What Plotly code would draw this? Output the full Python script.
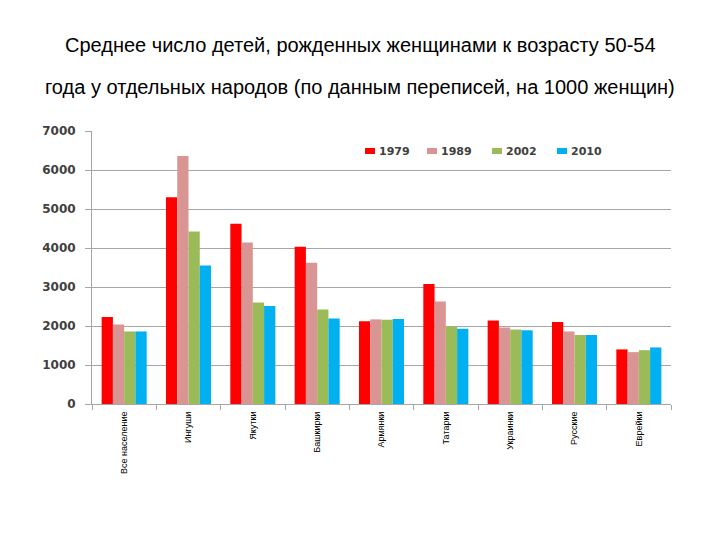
import plotly.graph_objects as go

categories = ["Все население", "Ингуши", "Якутки", "Башкирки", "Армянки",
              "Татарки", "Украинки", "Русские", "Еврейки"]
years = ["1979", "1989", "2002", "2010"]
v1979 = [2230, 5300, 4620, 4030, 2120, 3080, 2140, 2100, 1400]
v1989 = [2040, 6360, 4140, 3620, 2170, 2630, 1960, 1860, 1330]
v2002 = [1860, 4420, 2600, 2420, 2160, 1990, 1910, 1770, 1380]
v2010 = [1860, 3550, 2510, 2190, 2180, 1930, 1890, 1770, 1450]
yticks = [0, 1000, 2000, 3000, 4000, 5000, 6000, 7000]
title_lines = ["Среднее число детей, рожденных женщинами к возрасту 50-54",
               "года у отдельных народов (по данным переписей, на 1000 женщин)"]
colors = ["#FF0000", "#D99594", "#9BBB59", "#00B0F0"]
series = [v1979, v1989, v2002, v2010]

W, H = 720, 540
ML, MR, MT, MB = 84, 57, 123, 144
plot_w = W - ML - MR
plot_h = H - MT - MB


def px_x(fx):
    return (fx - ML) / plot_w


def px_y(fy):
    return (H - MB - fy) / plot_h


fig = go.Figure()
for name, vals, col in zip(years, series, colors):
    fig.add_trace(go.Bar(x=categories, y=vals, name=name, showlegend=False,
                         marker=dict(color=col, line=dict(width=0))))

title_font = dict(size=20, color="black", family="Liberation Sans, Arial, sans-serif")
annotations = []
for txt, ypx in zip(title_lines, [37, 79]):
    annotations.append(dict(text=txt, x=px_x(352), y=px_y(ypx),
                            xref="paper", yref="paper", xanchor="center", yanchor="middle",
                            showarrow=False, font=title_font))

# legend (drawn as key swatches + labels)
legend_left = [357, 419, 484, 549]
shapes = []
leg_y = 143
for left, name, col in zip(legend_left, years, colors):
    shapes.append(dict(type="rect", xref="paper", yref="paper",
                       x0=px_x(left), x1=px_x(left + 10),
                       y0=px_y(leg_y + 3), y1=px_y(leg_y - 3),
                       fillcolor=col, line=dict(width=0), layer="above"))
    annotations.append(dict(text=name, x=px_x(left + 12), y=px_y(leg_y),
                            xref="paper", yref="paper", xanchor="left", yanchor="middle",
                            showarrow=False,
                            font=dict(family="DejaVu Sans, Verdana, sans-serif", size=11,
                                      color="#404040", weight="bold")))

fig.update_layout(
    width=W, height=H,
    paper_bgcolor="white", plot_bgcolor="white",
    margin=dict(l=ML, r=MR, t=MT, b=MB, autoexpand=False),
    barmode="group", bargap=0.3, bargroupgap=0,
    font=dict(family="Liberation Sans, Arial, sans-serif"),
    showlegend=False,
    annotations=annotations,
    shapes=shapes,
)

fig.update_yaxes(range=[0, 7000], tickvals=yticks, showgrid=True, gridcolor="#A6A6A6",
                 gridwidth=1, showline=True, linecolor="#A6A6A6", linewidth=1,
                 ticks="outside", ticklen=6, tickcolor="#A6A6A6",
                 ticklabelstandoff=7, zeroline=False,
                 tickfont=dict(family="DejaVu Sans, Verdana, sans-serif", size=12,
                               color="#404040", weight="bold"))
fig.update_xaxes(showline=True, linecolor="#A6A6A6", linewidth=1, ticks="outside",
                 tickson="boundaries", ticklen=5, tickcolor="#A6A6A6", tickangle=-90,
                 ticklabelstandoff=3,
                 tickfont=dict(family="Liberation Sans, Arial, sans-serif",
                               size=9, color="black"))

fig.write_html("out.html")
